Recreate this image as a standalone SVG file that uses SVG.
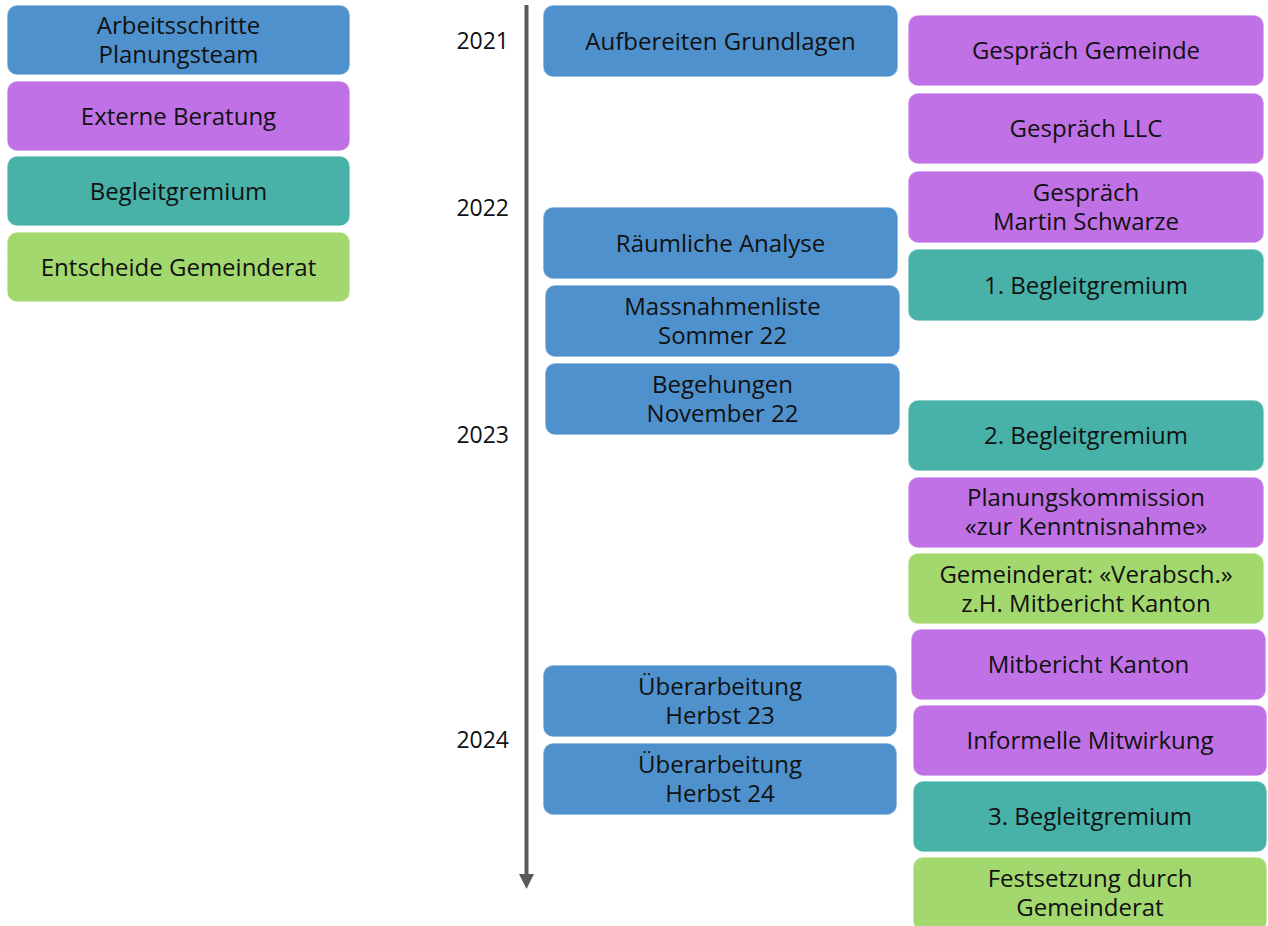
<svg xmlns="http://www.w3.org/2000/svg" width="1268" height="926" viewBox="0 0 1268 926">
<style>
.n rect{stroke:#ffffff;stroke-opacity:0.55;stroke-width:1.5}
.b rect{fill:#4F91CD}
.p rect{fill:#C071E6}
.t rect{fill:#48B2A9}
.g rect{fill:#A3D86F}
text{font-family:"Open Sans","Noto Sans","DejaVu Sans",sans-serif;font-size:24px;fill:#111111;text-anchor:middle;dominant-baseline:central}
.yr{text-anchor:end;font-size:23px}
</style>
<rect width="1268" height="926" fill="#ffffff"/>
<g id="legend">
<g id="leg1" class="n b"><rect x="7" y="5" width="343" height="70" rx="10"/><text x="178.5" y="24.5">Arbeitsschritte</text><text x="178.5" y="53.5">Planungsteam</text></g>
<g id="leg2" class="n p"><rect x="7" y="81" width="343" height="70" rx="10"/><text x="178.5" y="115">Externe Beratung</text></g>
<g id="leg3" class="n t"><rect x="7" y="156" width="343" height="70" rx="10"/><text x="178.5" y="190">Begleitgremium</text></g>
<g id="leg4" class="n g"><rect x="7" y="232" width="343" height="70" rx="10"/><text x="178.5" y="266">Entscheide Gemeinderat</text></g>
</g>
<g id="years">
<text class="yr" x="509" y="40">2021</text>
<text class="yr" x="509" y="207">2022</text>
<text class="yr" x="509" y="434">2023</text>
<text class="yr" x="509" y="739">2024</text>
</g>
<g id="connectors">
<line x1="526.5" y1="5" x2="526.5" y2="875" stroke="#5A5A5A" stroke-width="4"/>
<polygon points="519,874 534,874 526.5,889" fill="#5A5A5A"/>
</g>
<g id="n1" class="n b"><rect x="543" y="5" width="355" height="72" rx="10"/><text x="720.5" y="40">Aufbereiten Grundlagen</text></g>
<g id="n2" class="n b"><rect x="543" y="207" width="355" height="72" rx="10"/><text x="720.5" y="242">Räumliche Analyse</text></g>
<g id="n3" class="n b"><rect x="545" y="285" width="355" height="72" rx="10"/><text x="722.5" y="305.5">Massnahmenliste</text><text x="722.5" y="334.5">Sommer 22</text></g>
<g id="n4" class="n b"><rect x="545" y="363" width="355" height="72" rx="10"/><text x="722.5" y="383.5">Begehungen</text><text x="722.5" y="412.5">November 22</text></g>
<g id="n5" class="n b"><rect x="543" y="665" width="354" height="72" rx="10"/><text x="720" y="685.5">Überarbeitung</text><text x="720" y="714.5">Herbst 23</text></g>
<g id="n6" class="n b"><rect x="543" y="743" width="354" height="72" rx="10"/><text x="720" y="763.5">Überarbeitung</text><text x="720" y="792.5">Herbst 24</text></g>
<g id="r1" class="n p"><rect x="908" y="15" width="356" height="71" rx="10"/><text x="1086" y="49">Gespräch Gemeinde</text></g>
<g id="r2" class="n p"><rect x="908" y="93" width="356" height="71" rx="10"/><text x="1086" y="127">Gespräch LLC</text></g>
<g id="r3" class="n p"><rect x="908" y="171" width="356" height="72" rx="10"/><text x="1086" y="191.5">Gespräch</text><text x="1086" y="220.5">Martin Schwarze</text></g>
<g id="r4" class="n t"><rect x="908" y="249" width="356" height="72" rx="10"/><text x="1086" y="284">1. Begleitgremium</text></g>
<g id="r5" class="n t"><rect x="908" y="400" width="356" height="71" rx="10"/><text x="1086" y="434.5">2. Begleitgremium</text></g>
<g id="r6" class="n p"><rect x="908" y="477" width="356" height="71" rx="10"/><text x="1086" y="496.5">Planungskommission</text><text x="1086" y="525.5">«zur Kenntnisnahme»</text></g>
<g id="r7" class="n g"><rect x="908" y="553" width="356" height="71" rx="10"/><text x="1086" y="573">Gemeinderat: «Verabsch.»</text><text x="1086" y="602">z.H. Mitbericht Kanton</text></g>
<g id="r8" class="n p"><rect x="911" y="629" width="355" height="71" rx="10"/><text x="1088.5" y="663.5">Mitbericht Kanton</text></g>
<g id="r9" class="n p"><rect x="913" y="705" width="354" height="71" rx="10"/><text x="1090" y="739.5">Informelle Mitwirkung</text></g>
<g id="r10" class="n t"><rect x="913" y="781" width="354" height="71" rx="10"/><text x="1090" y="815.5">3. Begleitgremium</text></g>
<g id="r11" class="n g"><rect x="913" y="857" width="354" height="74" rx="10"/><text x="1090" y="877">Festsetzung durch</text><text x="1090" y="906">Gemeinderat</text></g>
</svg>
